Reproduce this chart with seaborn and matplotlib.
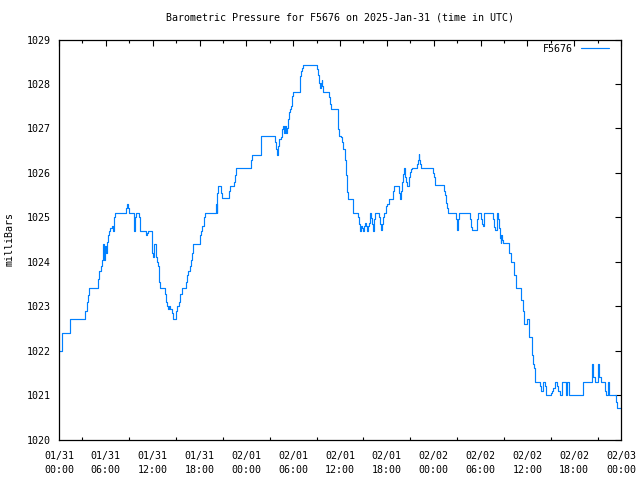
import matplotlib
matplotlib.use("Agg")
import matplotlib.pyplot as plt
import seaborn as sns
import pandas as pd
from matplotlib.ticker import MultipleLocator, FixedLocator

# elapsed hours since 2025-01-31 00:00 UTC at which the reading changes
hours = [0.00, 0.38, 1.35, 3.33, 3.55, 3.75, 3.88, 5.03, 5.16, 5.34, 5.47, 5.60, 5.68, 5.80, 5.89, 5.98,
         6.11, 6.24, 6.41, 6.53, 6.75, 6.96, 7.08, 7.21, 8.58, 8.75, 8.88, 9.01, 9.57, 9.65, 9.77, 9.90,
         10.25, 10.34, 11.11, 11.27, 11.44, 11.88, 11.95, 12.08, 12.21, 12.39, 12.52, 12.64, 12.81, 12.94,
         13.62, 13.75, 13.87, 14.00, 14.13, 14.26, 14.44, 14.57, 15.03, 15.16, 15.37, 15.54, 15.72,
         16.31, 16.44, 16.56, 16.74, 16.91, 17.08, 17.20, 18.02, 18.19, 18.36, 18.58, 18.70,
         20.11, 20.20, 20.28, 20.41, 20.75, 20.92, 21.78, 21.91, 22.38, 22.51, 22.67, 24.60, 24.76,
         25.88, 27.71, 27.84, 27.97, 28.09, 28.22, 28.40, 28.57, 28.73, 28.82, 28.95, 29.08, 29.17,
         29.30, 29.43, 29.59, 29.76, 29.89, 30.01, 30.87, 31.00, 31.13, 31.22, 33.09, 33.22, 33.35,
         33.44, 33.53, 33.65, 33.73, 33.86, 34.55, 34.68, 34.81, 35.70, 35.78, 35.91, 36.13, 36.29,
         36.42, 36.60, 36.73, 36.86, 36.93, 37.02, 37.62, 37.70, 38.34, 38.43, 38.52, 38.65, 38.78,
         38.91, 39.07, 39.20, 39.33, 39.42, 39.55, 39.67, 39.84, 39.97, 40.10, 40.26, 40.35, 40.48,
         41.03, 41.12, 41.25, 41.38, 41.47, 41.60, 41.93, 42.06, 42.24, 42.83, 42.95, 43.59, 43.72,
         43.85, 43.98, 44.11, 44.23, 44.32, 44.45, 44.54, 44.88, 45.00, 45.13, 45.26, 45.86, 45.95,
         46.08, 46.16, 46.25, 46.37, 47.91, 48.04, 48.17, 49.36, 49.49, 49.58, 49.70, 49.79, 50.86,
         50.95, 51.08, 51.20, 52.69, 52.82, 52.95, 53.51, 53.64, 54.06, 54.19, 54.28, 54.41, 54.48,
         55.60, 55.73, 55.82, 56.11, 56.24, 56.33, 56.46, 56.58, 56.66, 56.79, 56.92, 57.61, 57.69,
         57.87, 58.33, 58.51, 59.15, 59.40, 59.53, 59.95, 60.25, 60.56, 60.68, 60.85, 60.98, 61.62,
         61.75, 61.97, 62.26, 62.39, 62.99, 63.16, 63.32, 63.54, 63.76, 63.96, 64.18, 64.48, 64.91,
         65.04, 65.37, 67.17, 68.24, 68.45, 68.67, 69.09, 69.22, 69.40, 69.98, 70.07, 70.29, 70.42,
         70.50, 71.36, 71.52, 72.00]

pressure = [1022.0, 1022.4, 1022.7, 1022.9, 1023.1, 1023.25, 1023.4, 1023.6, 1023.8, 1023.9, 1024.05, 1024.2,
            1024.4, 1024.05, 1024.35, 1024.2, 1024.45, 1024.6, 1024.7, 1024.75, 1024.8, 1024.7, 1025.0, 1025.1,
            1025.2, 1025.3, 1025.2, 1025.1, 1025.0, 1024.7, 1025.0, 1025.1, 1025.0, 1024.7, 1024.6, 1024.65,
            1024.7, 1024.5, 1024.2, 1024.1, 1024.4, 1024.1, 1024.0, 1023.9, 1023.55, 1023.4,
            1023.27, 1023.1, 1023.0, 1022.93, 1023.0, 1022.93, 1022.85, 1022.7, 1022.9, 1023.0, 1023.1, 1023.27,
            1023.4, 1023.55, 1023.7, 1023.8, 1023.9, 1024.05, 1024.2, 1024.4, 1024.6, 1024.7, 1024.8, 1025.0,
            1025.1, 1025.3, 1025.1, 1025.55, 1025.7, 1025.55, 1025.43, 1025.6, 1025.7, 1025.8, 1025.95, 1026.12,
            1026.3, 1026.4, 1026.82, 1026.7, 1026.53, 1026.4, 1026.6, 1026.76, 1026.8, 1026.98, 1027.05, 1026.9,
            1027.05, 1026.9, 1027.0, 1027.2, 1027.36, 1027.43, 1027.5, 1027.73, 1027.83, 1028.18, 1028.3,
            1028.37, 1028.43, 1028.33, 1028.2, 1028.03, 1027.9, 1028.03, 1028.1, 1027.95, 1027.83, 1027.7,
            1027.55, 1027.43, 1027.2, 1026.98, 1026.82, 1026.8, 1026.7, 1026.53, 1026.3, 1025.95, 1025.74,
            1025.56, 1025.42, 1025.25, 1025.1, 1025.0, 1024.84, 1024.69, 1024.8, 1024.75, 1024.69, 1024.8,
            1024.88, 1024.8, 1024.69, 1024.8, 1024.88, 1025.1, 1024.98, 1024.86, 1024.69, 1024.95, 1025.1,
            1025.0, 1024.85, 1024.71, 1024.85, 1025.0, 1025.1, 1025.25, 1025.3, 1025.42, 1025.6, 1025.7,
            1025.55, 1025.42, 1025.6, 1025.8, 1025.97, 1026.12, 1025.9, 1025.8, 1025.7, 1025.9, 1026.02,
            1026.08, 1026.12, 1026.2, 1026.3, 1026.42, 1026.3, 1026.2, 1026.12, 1026.0, 1025.9, 1025.72,
            1025.6, 1025.5, 1025.33, 1025.2, 1025.1, 1024.95, 1024.71, 1024.95, 1025.1, 1024.95, 1024.79,
            1024.71, 1024.95, 1025.1, 1024.97, 1024.84, 1024.8, 1024.95, 1025.1, 1024.95, 1024.79, 1024.71,
            1025.1, 1024.95, 1024.75, 1024.54, 1024.41, 1024.6, 1024.5, 1024.41, 1024.3, 1024.2, 1024.0,
            1023.7, 1023.4, 1023.15, 1022.9, 1022.6, 1022.7, 1022.3, 1021.9, 1021.7, 1021.6, 1021.3, 1021.2,
            1021.1, 1021.3, 1021.2, 1021.0, 1021.05, 1021.1, 1021.15, 1021.3, 1021.2, 1021.1, 1021.0, 1021.3,
            1021.0, 1021.3, 1021.0, 1021.3, 1021.7, 1021.4, 1021.3, 1021.7, 1021.4, 1021.3, 1021.1, 1021.0,
            1021.3, 1021.1, 1021.0, 1020.85, 1020.7, 1020.7]

x_tick_hours = [0, 6, 12, 18, 24, 30, 36, 42, 48, 54, 60, 66, 72]
x_tick_labels = ["01/31\n00:00", "01/31\n06:00", "01/31\n12:00", "01/31\n18:00",
                 "02/01\n00:00", "02/01\n06:00", "02/01\n12:00", "02/01\n18:00",
                 "02/02\n00:00", "02/02\n06:00", "02/02\n12:00", "02/02\n18:00",
                 "02/03\n00:00"]
y_ticks = [1020, 1021, 1022, 1023, 1024, 1025, 1026, 1027, 1028, 1029]

title = "Barometric Pressure for F5676 on 2025-Jan-31 (time in UTC)"
series_name = "F5676"

df = pd.DataFrame({"hours": hours, "pressure": pressure})

sns.set_style("white")
plt.rcParams["font.family"] = ["DejaVu Sans Mono"]
plt.rcParams["text.color"] = "black"
plt.rcParams["axes.labelcolor"] = "black"
plt.rcParams["xtick.color"] = "black"
plt.rcParams["ytick.color"] = "black"
FS = 7.2

fig = plt.figure(figsize=(6.4, 4.8), dpi=100)
ax = fig.add_axes([59 / 640, 40.5 / 480, 562 / 640, 400 / 480])

sns.lineplot(data=df, x="hours", y="pressure", ax=ax, color="#0080ff",
             linewidth=0.85, drawstyle="steps-post", label=series_name)

ax.set_xlim(0, 72)
ax.set_ylim(1020, 1029)
ax.xaxis.set_major_locator(FixedLocator(x_tick_hours))
ax.set_xticklabels(x_tick_labels, fontsize=FS, linespacing=1.55, color="black")
ax.xaxis.set_minor_locator(MultipleLocator(3))
ax.set_yticks(y_ticks)
ax.set_yticklabels([str(v) for v in y_ticks], fontsize=FS, color="black")

ax.tick_params(axis="both", which="major", direction="in", length=4.5, width=0.8,
               top=True, right=True, color="black")
ax.tick_params(axis="both", which="minor", direction="in", length=2.3, width=0.8,
               top=True, right=False, bottom=True, left=False, color="black")
ax.tick_params(axis="x", which="major", pad=8)
ax.tick_params(axis="y", which="major", pad=6)

for s in ax.spines.values():
    s.set_color("black")
    s.set_linewidth(0.9)

ax.set_xlabel("")
ax.set_ylabel("milliBars", fontsize=FS, color="black")
ax.yaxis.set_label_coords(-44 / 562, 0.5)
ax.set_title(title, fontsize=FS, pad=14, color="black")

leg = ax.legend(loc="upper right", frameon=False, markerfirst=False, fontsize=FS,
                handlelength=2.8, handletextpad=0.8, borderpad=0, borderaxespad=0,
                bbox_to_anchor=(1 - 12 / 562, 1 - 4 / 400))
for t in leg.get_texts():
    t.set_color("black")

fig.savefig("out.png", dpi=100, facecolor="white")
